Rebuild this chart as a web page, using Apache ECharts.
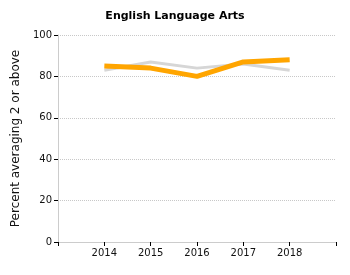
<!DOCTYPE html>
<html>
<head>
<meta charset="utf-8">
<script src="https://cdn.jsdelivr.net/npm/echarts@6/dist/echarts.min.js"></script>
<style>
html, body { margin: 0; padding: 0; background: #fff; }
#chart { width: 350px; height: 275px; }
</style>
</head>
<body>
<div id="chart"></div>
<script>
var years = [2014, 2015, 2016, 2017, 2018];
var grayValues = [83, 87, 84, 86, 83];
var orangeValues = [85, 84, 80, 87, 88];
var yTicks = [0, 20, 40, 60, 80, 100];

function pairs(vals) {
    return years.map(function (y, i) { return [y, vals[i]]; });
}

var myChart = echarts.init(document.getElementById('chart'));

var option = {
    animation: false,
    textStyle: { fontFamily: 'DejaVu Sans' },
    title: {
        text: 'English Language Arts',
        left: 'center',
        top: 6,
        textStyle: { fontSize: 11, fontWeight: 'bold', color: '#000', fontFamily: 'DejaVu Sans' }
    },
    grid: { left: 58, right: 14, top: 35, bottom: 33 },
    xAxis: {
        type: 'value',
        min: 2013,
        max: 2019,
        interval: 1,
        axisLine: { lineStyle: { color: '#ccc', width: 1 } },
        axisTick: { show: true, length: 4, lineStyle: { color: '#000' } },
        axisLabel: {
            fontSize: 10,
            color: '#111',
            margin: 6,
            formatter: function (v) { return years.indexOf(v) >= 0 ? String(v) : ''; }
        },
        splitLine: { show: false }
    },
    yAxis: {
        type: 'value',
        min: yTicks[0],
        max: yTicks[yTicks.length - 1],
        interval: 20,
        name: 'Percent averaging 2 or above',
        nameLocation: 'middle',
        nameGap: 30,
        nameTextStyle: { fontSize: 12, color: '#111' },
        axisLine: { show: true, lineStyle: { color: '#ccc', width: 1 } },
        axisTick: { show: true, length: 4, lineStyle: { color: '#000' } },
        axisLabel: { fontSize: 10, color: '#111', margin: 6 },
        splitLine: { show: true, lineStyle: { color: '#c8c8c8', type: 'dotted' } }
    },
    series: [
        {
            name: 'gray',
            type: 'line',
            data: pairs(grayValues),
            symbol: 'none',
            lineStyle: { color: '#d6d6d6', width: 3 },
            z: 2
        },
        {
            name: 'orange',
            type: 'line',
            data: pairs(orangeValues),
            symbol: 'none',
            lineStyle: { color: '#ffa500', width: 5 },
            z: 3
        }
    ]
};

myChart.setOption(option);
</script>
</body>
</html>
